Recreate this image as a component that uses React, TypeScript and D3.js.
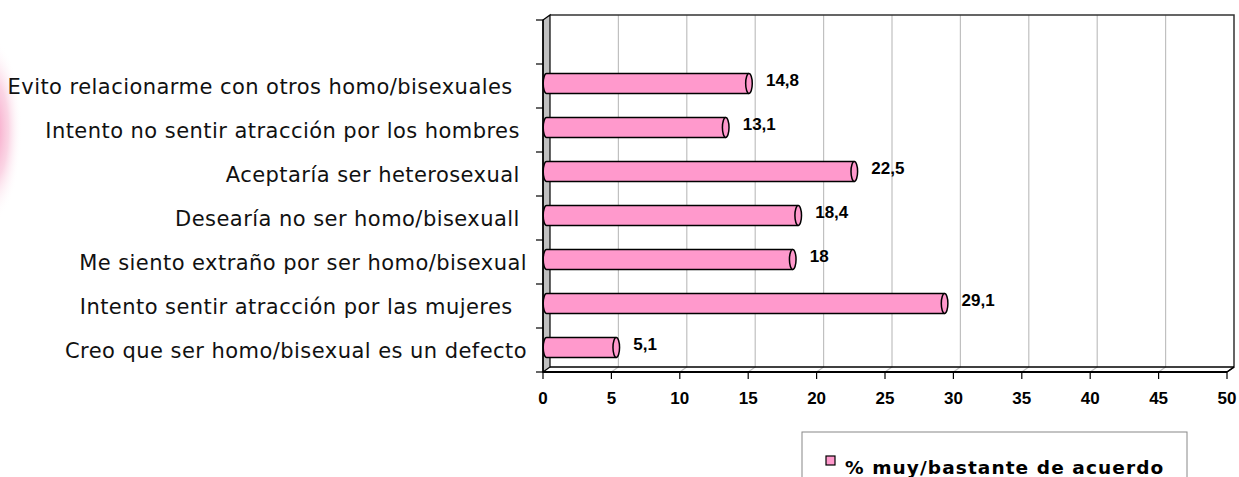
import React from "react";
import * as d3 from "d3";

// categorías de arriba a abajo (la primera fila está vacía en el original)
const categories = [
  "",
  "Evito relacionarme con otros homo/bisexuales  ",
  "Intento no sentir atracción por los hombres ",
  "Aceptaría ser heterosexual ",
  "Desearía no ser homo/bisexuall ",
  "Me siento extraño por ser homo/bisexual",
  "Intento sentir atracción por las mujeres  ",
  "Creo que ser homo/bisexual es un defecto",
];
const values = [null, 14.8, 13.1, 22.5, 18.4, 18, 29.1, 5.1];
const xTicks = [0, 5, 10, 15, 20, 25, 30, 35, 40, 45, 50];
const seriesName = "% muy/bastante de acuerdo";

const W = 1239;
const H = 477;
const DX = 7; // profundidad 3D
const DY = 5;
const PINK = "#ff99cc";

const App = () => {
  const x = d3.scaleLinear().domain([0, 50]).range([543, 1227]);
  const y = d3.scaleBand().domain(categories.map((c, i) => String(i))).range([20, 372]).padding(0);
  const x0 = x(0);
  const x1 = x(50);
  const yTop = 20;
  const yBot = 372;
  const bh = y.bandwidth() * 0.45;
  const fmt = (v: number) => String(v).replace(".", ",");

  return (
    <svg
      width={W}
      height={H}
      style={{ position: "absolute", left: 0, top: 0, display: "block", background: "#fff" }}
    >
      <defs>
        <radialGradient id="glow" cx="0.5" cy="0.5" r="0.5">
          <stop offset="0" stopColor="#f47fb0" stopOpacity={0.85} />
          <stop offset="0.55" stopColor="#f7b3cf" stopOpacity={0.55} />
          <stop offset="1" stopColor="#ffffff" stopOpacity={0} />
        </radialGradient>
      </defs>
      <ellipse cx={-8} cy={130} rx={30} ry={92} fill="url(#glow)" />

      {/* pared del fondo */}
      <rect x={x0 + DX} y={yTop - DY} width={x1 - x0} height={yBot - yTop} fill="#fff" />
      {xTicks.slice(1, -1).map((t) => (
        <polyline
          key={"g" + t}
          points={`${x(t) + DX},${yTop - DY} ${x(t) + DX},${yBot - DY} ${x(t)},${yBot}`}
          fill="none"
          stroke="#c0c0c0"
          strokeWidth={1.2}
        />
      ))}
      <polyline
        points={`${x0 + DX},${yTop - DY} ${x1 + DX},${yTop - DY} ${x1 + DX},${yBot - DY} ${x1},${yBot}`}
        fill="none"
        stroke="#333"
        strokeWidth={1.5}
      />
      {/* suelo */}
      <line x1={x0 + DX} y1={yBot - DY} x2={x1 + DX} y2={yBot - DY} stroke="#000" strokeWidth={1.5} />
      {/* pared izquierda */}
      <polygon
        points={`${x0},${yTop} ${x0 + DX},${yTop - DY} ${x0 + DX},${yBot - DY} ${x0},${yBot}`}
        fill="#c0c0c0"
        stroke="#000"
        strokeWidth={1.2}
      />

      {/* barras cilíndricas */}
      {values.map((v, i) => {
        if (v == null) return null;
        const cy = (y(String(i)) as number) + y.bandwidth() / 2 - DY / 2;
        const xs = x0 + DX / 2;
        const xe = x(v) + DX / 2;
        const r = bh / 2;
        const rx = 3.3;
        return (
          <g key={"b" + i}>
            <path
              d={`M${xe},${cy - r} L${xs},${cy - r} A${rx},${r} 0 0 0 ${xs},${cy + r} L${xe},${cy + r}`}
              fill={PINK}
              stroke="#000"
              strokeWidth={1.5}
            />
            <ellipse cx={xe} cy={cy} rx={rx} ry={r} fill={PINK} stroke="#000" strokeWidth={1.5} />
            <text
              x={xe + 17}
              y={cy + 2}
              fontFamily="'Liberation Sans', Arial, sans-serif"
              fontWeight="bold"
              fontSize={17}
            >
              {fmt(v)}
            </text>
          </g>
        );
      })}

      {/* ejes */}
      <line x1={x0} y1={yTop} x2={x0} y2={yBot} stroke="#000" strokeWidth={1.5} />
      <line x1={x0} y1={yBot} x2={x1} y2={yBot} stroke="#000" strokeWidth={2} />
      <line x1={x1} y1={yBot} x2={x1 + DX} y2={yBot - DY} stroke="#000" strokeWidth={1.5} />
      {categories.map((c, i) => (
        <line
          key={"lt" + i}
          x1={x0 - 7}
          x2={x0}
          y1={y(String(i)) as number}
          y2={y(String(i)) as number}
          stroke="#000"
          strokeWidth={1.2}
        />
      ))}
      <line x1={x0 - 7} x2={x0} y1={yBot} y2={yBot} stroke="#000" strokeWidth={1.2} />
      {categories.map((c, i) => (
        <text
          key={"cl" + i}
          x={527}
          y={(y(String(i)) as number) + y.bandwidth() / 2 + 8}
          textAnchor="end"
          fontFamily="'DejaVu Sans', Verdana, sans-serif"
          fontSize={21}
          letterSpacing={0.45}
          fill="#111"
          style={{ whiteSpace: "pre" }}
        >
          {c}
        </text>
      ))}
      {xTicks.map((t) => (
        <g key={"xt" + t}>
          <line x1={x(t)} x2={x(t)} y1={yBot} y2={yBot + 7} stroke="#000" strokeWidth={1.2} />
          <text
            x={x(t)}
            y={404}
            textAnchor="middle"
            fontFamily="'Liberation Sans', Arial, sans-serif"
            fontWeight="bold"
            fontSize={17}
          >
            {t}
          </text>
        </g>
      ))}

      {/* leyenda */}
      <rect x={802} y={432} width={385} height={60} fill="#fff" stroke="#888" strokeWidth={1} />
      <rect x={826} y={456} width={9} height={9} fill={PINK} stroke="#000" strokeWidth={1.2} />
      <text
        x={845}
        y={474}
        fontFamily="'DejaVu Sans', Verdana, sans-serif"
        fontWeight="bold"
        fontSize={18.5}
        letterSpacing={1.1}
      >
        {seriesName}
      </text>
    </svg>
  );
};

export default App;
